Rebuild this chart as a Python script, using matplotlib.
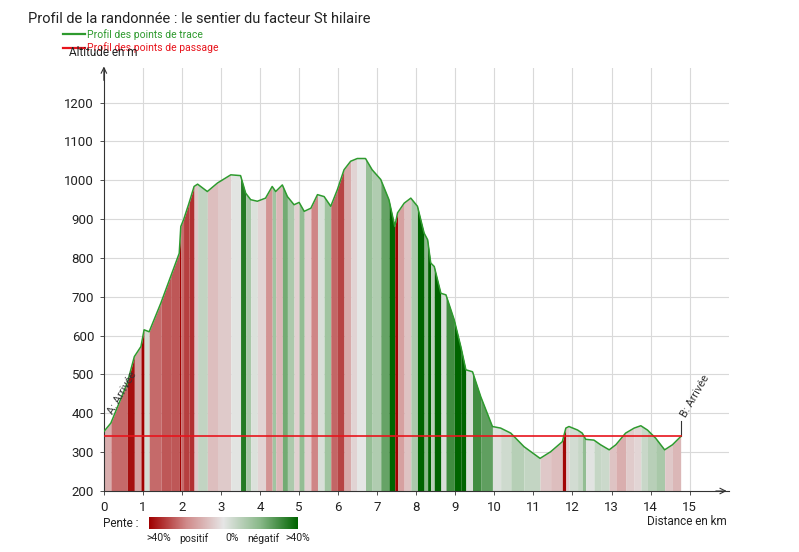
import matplotlib.pyplot as plt
import matplotlib.colors as mcolors
import numpy as np

plt.rcParams['font.family'] = ['Roboto', 'DejaVu Sans']

# profile (km, m)
dist = [0.0, 0.18, 0.6, 0.78, 0.95, 1.03, 1.16, 1.46, 1.71, 1.93, 1.97, 2.04,
        2.18, 2.31, 2.4, 2.65, 2.91, 3.25, 3.5, 3.63, 3.76, 3.93, 4.14, 4.31,
        4.4, 4.57, 4.7, 4.87, 5.0, 5.13, 5.3, 5.47, 5.64, 5.81, 5.98, 6.15,
        6.32, 6.49, 6.7, 6.87, 7.09, 7.3, 7.45, 7.52, 7.69, 7.86, 8.03, 8.2,
        8.29, 8.37, 8.46, 8.63, 8.76, 8.97, 9.14, 9.27, 9.44, 9.65, 9.95,
        10.16, 10.42, 10.76, 11.17, 11.44, 11.74, 11.83, 11.91, 12.13, 12.25,
        12.34, 12.55, 12.72, 12.94, 13.11, 13.36, 13.58, 13.75, 13.92, 14.13,
        14.36, 14.56, 14.77]
alt = [353, 375, 478, 546, 572, 615, 610, 684, 752, 812, 881, 898,
       941, 984, 990, 971, 993, 1014, 1012, 967, 950, 946, 954, 984,
       971, 988, 958, 937, 943, 920, 928, 963, 958, 933, 976, 1027,
       1049, 1056, 1056, 1027, 1002, 950, 881, 916, 941, 954, 933, 864,
       847, 787, 778, 709, 705, 641, 572, 512, 507, 443, 366,
       362, 349, 314, 284, 301, 327, 362, 366, 357, 349,
       333, 331, 319, 306, 319, 349, 362, 368, 357, 336,
       306, 319, 340]
passage_alt = 342

title = "Profil de la randonnée : le sentier du facteur St hilaire"
xticks = list(range(0, 16))
yticks = list(range(200, 1300, 100))

dist = np.array(dist)
alt = np.array(alt)
slope = np.diff(alt) / (np.diff(dist) * 1000) * 100

cmap = mcolors.LinearSegmentedColormap.from_list(
    'pente', ['#a00000', '#d08a8a', '#e6e6e6', '#88b888', '#006400'])
norm = mcolors.Normalize(vmin=-40, vmax=40)

fig = plt.figure(figsize=(7.99, 5.52), dpi=100)
ax = fig.add_axes([0.130, 0.1105, 0.782, 0.767])
ax.set_xlim(0, 16)
ax.set_ylim(200, 1290)

for i in range(len(slope)):
    ax.fill_between(dist[i:i + 2], 200, alt[i:i + 2],
                    color=cmap(norm(-slope[i])), lw=0, zorder=1)

ax.plot(dist, alt, color='#2e9a2e', lw=1.1, zorder=3)
ax.plot([0, dist[-1]], [passage_alt, passage_alt], color='#e8141c', lw=1.2, zorder=4)

# grid
for x in xticks[1:]:
    ax.plot([x, x], [200, 1290], color='#d9d9d9', lw=0.8, zorder=0)
for y in yticks[1:]:
    ax.plot([0, 16], [y, y], color='#d9d9d9', lw=0.8, zorder=0)

for s in ['top', 'right']:
    ax.spines[s].set_visible(False)
for s in ['left', 'bottom']:
    ax.spines[s].set_color('#333333')
    ax.spines[s].set_linewidth(0.8)
ax.annotate('', xy=(16.02, 200), xytext=(15.6, 200),
            arrowprops=dict(arrowstyle='->', color='#333333', lw=0.8),
            annotation_clip=False)
ax.annotate('', xy=(0, 1300), xytext=(0, 1250),
            arrowprops=dict(arrowstyle='->', color='#333333', lw=0.8),
            annotation_clip=False)

ax.set_xticks(xticks)
ax.set_yticks(yticks)
ax.tick_params(length=3, width=0.6, color='#333333', labelsize=9.5,
               labelcolor='#222222', pad=4)

ax.text(0.05, 392, 'A: Arrivée', rotation=60, fontsize=8, color='#333333',
        ha='left', va='bottom', zorder=5)
ax.plot([dist[-1], dist[-1]], [passage_alt, 380], color='#333333', lw=0.8)
ax.text(dist[-1] - 0.05, 385, 'B: Arrivée', rotation=60, fontsize=8,
        color='#333333', ha='left', va='bottom')

fig.text(0.035, 0.966, title, fontsize=10.5, color='#222222', va='center')
fig.lines.append(plt.Line2D([0.079, 0.107], [0.938, 0.938], color='#2e9a2e',
                            lw=1.6, transform=fig.transFigure))
fig.text(0.109, 0.938, 'Profil des points de trace', fontsize=7.5,
         color='#2e9a2e', va='center')
fig.lines.append(plt.Line2D([0.079, 0.107], [0.913, 0.913], color='#e8141c',
                            lw=1.6, transform=fig.transFigure))
fig.text(0.109, 0.913, 'Profil des points de passage', fontsize=7.5,
         color='#e8141c', va='center')
fig.text(0.086, 0.905, 'Altitude en m', fontsize=8.5, color='#222222', va='center')
fig.text(0.91, 0.055, 'Distance en km', fontsize=8.5, color='#222222',
         ha='right', va='center')

# colour key
cax = fig.add_axes([0.186, 0.041, 0.186, 0.022])
cax.imshow(np.linspace(-40, 40, 256)[None, :], cmap=cmap, aspect='auto',
           extent=[0, 1, 0, 1])
cax.set_axis_off()
fig.text(0.129, 0.052, 'Pente :', fontsize=8.5, color='#222222', va='center')
for xx, lab in [(0.199, '>40%'), (0.242, 'positif'), (0.290, '0%'),
                (0.330, 'négatif'), (0.373, '>40%')]:
    fig.text(xx, 0.025, lab, fontsize=7.5, color='#222222', ha='center',
             va='center')

fig.savefig('out.png', dpi=100)
